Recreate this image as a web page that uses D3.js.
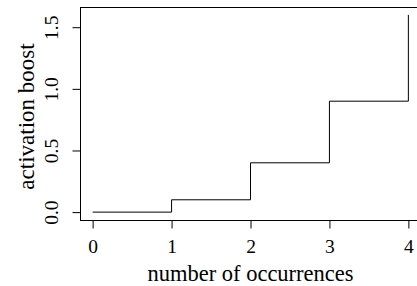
<!DOCTYPE html>
<html>
<head>
<meta charset="utf-8">
<script src="https://cdn.jsdelivr.net/npm/d3@7"></script>
<style>
  body { margin: 0; background: #fff; }
  text { font-family: "Liberation Serif", "DejaVu Serif", serif; }
</style>
</head>
<body>
<div id="chart"></div>
<script>
// step data
var occurrences = [0, 1, 2, 3, 4];
var boost = [0, 0.1, 0.4, 0.9, 1.6];
var xTicks = [0, 1, 2, 3, 4];
var yTicks = [0, 0.5, 1.0, 1.5];

var width = 417, height = 286;
var margin = {top: 7, right: -4, bottom: 66, left: 80};

// R style: pad the range by 4% on each side
var xpad = 0.04 * (d3.max(occurrences) - d3.min(occurrences));
var ypad = 0.04 * (d3.max(boost) - d3.min(boost));

var x = d3.scaleLinear()
    .domain([d3.min(occurrences) - xpad, d3.max(occurrences) + xpad])
    .range([margin.left, width - margin.right]);

var y = d3.scaleLinear()
    .domain([d3.min(boost) - ypad, d3.max(boost) + ypad])
    .range([height - margin.bottom, margin.top]);

var svg = d3.select("#chart").append("svg")
    .attr("width", width)
    .attr("height", height);

// plot box
svg.append("rect")
    .attr("x", x.range()[0] + 0.5)
    .attr("y", y.range()[1] + 0.5)
    .attr("width", x.range()[1] - x.range()[0])
    .attr("height", y.range()[0] - y.range()[1])
    .attr("fill", "none")
    .attr("stroke", "#000");

// x axis
var xAxis = svg.append("g")
    .attr("transform", "translate(0," + (y.range()[0] + 0.5) + ")")
    .call(d3.axisBottom(x).tickValues(xTicks).tickSize(8).tickPadding(11)
      .tickFormat(d3.format("d")));
xAxis.select(".domain").remove();
xAxis.selectAll("text").attr("font-size", 19.5).attr("font-family", "Liberation Serif").attr("fill", "#000");

// y axis
var yAxis = svg.append("g")
    .attr("transform", "translate(" + (x.range()[0] + 0.5) + ",0)")
    .call(d3.axisLeft(y).tickValues(yTicks).tickSize(8).tickFormat(d3.format(".1f")));
yAxis.select(".domain").remove();
yAxis.selectAll("text")
    .attr("font-size", 19.5)
    .attr("font-family", "Liberation Serif")
    .attr("fill", "#000")
    .attr("text-anchor", "middle")
    .attr("x", null).attr("dy", null)
    .attr("transform", "translate(-23,0) rotate(-90)")
    .attr("y", 0);

// step line (type = "s")
var line = d3.line()
    .x(function(d, i) { return x(occurrences[i]); })
    .y(function(d) { return y(d); })
    .curve(d3.curveStepAfter);

svg.append("path")
    .datum(boost)
    .attr("fill", "none")
    .attr("stroke", "#000")
    .attr("stroke-width", 1)
    .attr("d", line);

// axis titles
svg.append("text")
    .attr("x", (x.range()[0] + x.range()[1]) / 2)
    .attr("y", 281)
    .attr("text-anchor", "middle")
    .attr("font-size", 22.5)
    .text("number of occurrences");

svg.append("text")
    .attr("transform", "translate(34," + ((y.range()[0] + y.range()[1]) / 2 + 3) + ") rotate(-90)")
    .attr("text-anchor", "middle")
    .attr("font-size", 23)
    .text("activation boost");
</script>
</body>
</html>
